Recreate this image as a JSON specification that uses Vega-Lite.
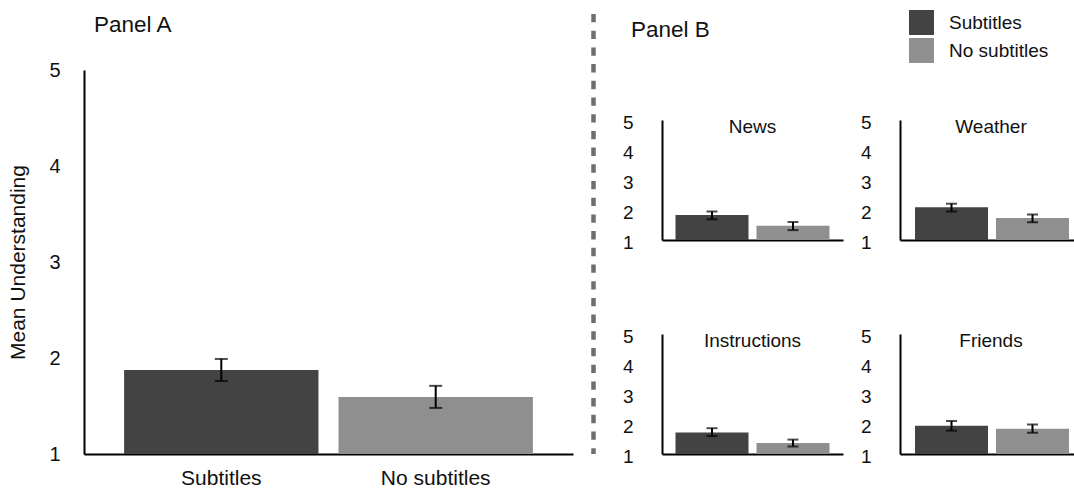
{
  "$schema": "https://vega.github.io/schema/vega-lite/v6.json",
  "background": "white",
  "padding": {"left": 7, "top": 10, "right": 0, "bottom": 0},
  "config": {
    "font": "Liberation Sans",
    "view": {"stroke": null},
    "axis": {"domainColor": "#000", "domainWidth": 2, "ticks": false, "grid": false, "labelColor": "#111", "titleColor": "#111", "titleFontWeight": "normal", "labelOverlap": false, "labelBound": false},
    "title": {"fontWeight": "normal", "color": "#111"}
  },
  "datasets": {
    "overall": [
      {"condition": "Subtitles", "mean": 1.875, "lo": 1.76, "hi": 1.99},
      {"condition": "No subtitles", "mean": 1.595, "lo": 1.48, "hi": 1.71}
    ],
    "byTopic": [
      {"topic": "News", "condition": "Subtitles", "mean": 1.83, "lo": 1.69, "hi": 1.95},
      {"topic": "News", "condition": "No subtitles", "mean": 1.475, "lo": 1.33, "hi": 1.6},
      {"topic": "Weather", "condition": "Subtitles", "mean": 2.09, "lo": 1.95, "hi": 2.21},
      {"topic": "Weather", "condition": "No subtitles", "mean": 1.73, "lo": 1.59, "hi": 1.85},
      {"topic": "Instructions", "condition": "Subtitles", "mean": 1.72, "lo": 1.6, "hi": 1.86},
      {"topic": "Instructions", "condition": "No subtitles", "mean": 1.37, "lo": 1.25, "hi": 1.48},
      {"topic": "Friends", "condition": "Subtitles", "mean": 1.94, "lo": 1.78, "hi": 2.1},
      {"topic": "Friends", "condition": "No subtitles", "mean": 1.84, "lo": 1.71, "hi": 1.98}
    ]
  },
  "bounds": "flush",
  "spacing": 20.5,
  "hconcat": [
    {
      "title": {"text": "Panel A", "anchor": "start", "frame": "group", "fontSize": 22.5, "dx": 10, "offset": 24},
      "data": {"name": "overall"},
      "width": 489,
      "height": 384,
      "encoding": {
        "x": {"field": "condition", "type": "nominal",
          "scale": {"domain": ["Subtitles", "No subtitles"], "paddingInner": 0.0935, "paddingOuter": 0.187},
          "axis": {"title": null, "labelAngle": 0, "labelFontSize": 21, "labelPadding": 13}}
      },
      "layer": [
        {
          "mark": {"type": "bar"},
          "encoding": {
            "y": {"field": "mean", "type": "quantitative",
              "scale": {"domain": [1, 5], "nice": false, "zero": false},
              "axis": {"title": "Mean Understanding", "values": [1, 2, 3, 4, 5], "tickCount": 5, "format": "d", "labelFontSize": 20, "labelPadding": 24, "titleFontSize": 21, "titlePadding": 20}},
            "y2": {"datum": 1},
            "color": {"field": "condition", "type": "nominal",
              "scale": {"domain": ["Subtitles", "No subtitles"], "range": ["#434343", "#8f8f8f"]},
              "legend": {"orient": "none", "legendX": 825, "legendY": -60, "title": null, "symbolType": "square", "symbolSize": 625, "symbolStrokeWidth": 0, "symbolOpacity": 1, "labelFontSize": 19, "labelOffset": 15, "rowPadding": 3, "padding": 0, "labelColor": "#111"}}
          }
        },
        {
          "mark": {"type": "errorbar", "ticks": true, "size": 13, "thickness": 2, "color": "black"},
          "encoding": {
            "y": {"field": "lo", "type": "quantitative",
              "axis": {"title": "Mean Understanding", "values": [1, 2, 3, 4, 5], "tickCount": 5, "format": "d", "labelFontSize": 20, "labelPadding": 24, "titleFontSize": 21, "titlePadding": 20}},
            "y2": {"field": "hi"}
          }
        }
      ]
    },
    {
      "width": 48,
      "height": 384,
      "data": {"values": [{}]},
      "mark": {"type": "rule", "color": "#6e6e6e", "strokeWidth": 4.5, "strokeDash": [8.35, 8.35]},
      "encoding": {
        "x": {"datum": 0, "type": "quantitative", "scale": {"domain": [0, 1]}, "axis": null},
        "y": {"datum": 1.1458, "type": "quantitative", "scale": {"domain": [0, 1]}, "axis": null},
        "y2": {"datum": 0}
      }
    },
    {
      "bounds": "flush",
      "spacing": 49,
      "vconcat": [
        {
          "title": {"text": "Panel B", "anchor": "start", "frame": "group", "fontSize": 22.5, "dx": -31, "offset": 23},
          "width": 181,
          "height": 1,
          "data": {"values": [{}]},
          "mark": {"type": "text", "text": ""},
          "encoding": {}
        },
        {
          "bounds": "flush",
          "columns": 2,
          "spacing": {"row": 94, "column": 57},
          "concat": [
            {
              "title": {"text": "News", "fontSize": 19, "offset": -24},
              "width": 181, "height": 120,
              "data": {"name": "byTopic"},
              "transform": [{"filter": {"field": "topic", "equal": "News"}}],
              "encoding": {
                "x": {"field": "condition", "type": "nominal",
                  "scale": {"domain": ["Subtitles", "No subtitles"], "paddingInner": 0.0988, "paddingOuter": 0.1667, "align": 0.5},
                  "axis": {"title": null, "labels": false}}
              },
              "layer": [
                {"mark": {"type": "bar"},
                 "encoding": {
                   "y": {"field": "mean", "type": "quantitative", "scale": {"domain": [1, 5], "nice": false, "zero": false},
                     "axis": {"title": null, "values": [1, 2, 3, 4, 5], "tickCount": 5, "format": "d", "labelFontSize": 19, "labelPadding": 29, "labelOffset": 2}},
                   "y2": {"datum": 1},
                   "color": {"field": "condition", "type": "nominal",
                     "scale": {"domain": ["Subtitles", "No subtitles"], "range": ["#434343", "#8f8f8f"]},
                     "legend": {"orient": "none", "legendX": 825, "legendY": -60, "title": null, "symbolType": "square", "symbolSize": 625, "symbolStrokeWidth": 0, "symbolOpacity": 1, "labelFontSize": 19, "labelOffset": 15, "rowPadding": 3, "padding": 0, "labelColor": "#111"}}
                 }},
                {"mark": {"type": "errorbar", "ticks": true, "size": 11, "thickness": 2, "color": "black"},
                 "encoding": {
                   "y": {"field": "lo", "type": "quantitative",
                     "axis": {"title": null, "values": [1, 2, 3, 4, 5], "tickCount": 5, "format": "d", "labelFontSize": 19, "labelPadding": 29, "labelOffset": 2}},
                   "y2": {"field": "hi"}}}
              ]
            },
            {
              "title": {"text": "Weather", "fontSize": 19, "offset": -24, "dx": 4},
              "width": 174, "height": 120,
              "data": {"name": "byTopic"},
              "transform": [{"filter": {"field": "topic", "equal": "Weather"}}],
              "encoding": {
                "x": {"field": "condition", "type": "nominal",
                  "scale": {"domain": ["Subtitles", "No subtitles"], "paddingInner": 0.0988, "paddingOuter": 0.1235, "align": 0.75},
                  "axis": {"title": null, "labels": false}}
              },
              "layer": [
                {"mark": {"type": "bar"},
                 "encoding": {
                   "y": {"field": "mean", "type": "quantitative", "scale": {"domain": [1, 5], "nice": false, "zero": false},
                     "axis": {"title": null, "values": [1, 2, 3, 4, 5], "tickCount": 5, "format": "d", "labelFontSize": 19, "labelPadding": 29, "labelOffset": 2}},
                   "y2": {"datum": 1},
                   "color": {"field": "condition", "type": "nominal",
                     "scale": {"domain": ["Subtitles", "No subtitles"], "range": ["#434343", "#8f8f8f"]},
                     "legend": {"orient": "none", "legendX": 825, "legendY": -60, "title": null, "symbolType": "square", "symbolSize": 625, "symbolStrokeWidth": 0, "symbolOpacity": 1, "labelFontSize": 19, "labelOffset": 15, "rowPadding": 3, "padding": 0, "labelColor": "#111"}}
                 }},
                {"mark": {"type": "errorbar", "ticks": true, "size": 11, "thickness": 2, "color": "black"},
                 "encoding": {
                   "y": {"field": "lo", "type": "quantitative",
                     "axis": {"title": null, "values": [1, 2, 3, 4, 5], "tickCount": 5, "format": "d", "labelFontSize": 19, "labelPadding": 29, "labelOffset": 2}},
                   "y2": {"field": "hi"}}}
              ]
            },
            {
              "title": {"text": "Instructions", "fontSize": 19, "offset": -24},
              "width": 181, "height": 120,
              "data": {"name": "byTopic"},
              "transform": [{"filter": {"field": "topic", "equal": "Instructions"}}],
              "encoding": {
                "x": {"field": "condition", "type": "nominal",
                  "scale": {"domain": ["Subtitles", "No subtitles"], "paddingInner": 0.0988, "paddingOuter": 0.1667, "align": 0.5},
                  "axis": {"title": null, "labels": false}}
              },
              "layer": [
                {"mark": {"type": "bar"},
                 "encoding": {
                   "y": {"field": "mean", "type": "quantitative", "scale": {"domain": [1, 5], "nice": false, "zero": false},
                     "axis": {"title": null, "values": [1, 2, 3, 4, 5], "tickCount": 5, "format": "d", "labelFontSize": 19, "labelPadding": 29, "labelOffset": 2}},
                   "y2": {"datum": 1},
                   "color": {"field": "condition", "type": "nominal",
                     "scale": {"domain": ["Subtitles", "No subtitles"], "range": ["#434343", "#8f8f8f"]},
                     "legend": {"orient": "none", "legendX": 825, "legendY": -60, "title": null, "symbolType": "square", "symbolSize": 625, "symbolStrokeWidth": 0, "symbolOpacity": 1, "labelFontSize": 19, "labelOffset": 15, "rowPadding": 3, "padding": 0, "labelColor": "#111"}}
                 }},
                {"mark": {"type": "errorbar", "ticks": true, "size": 11, "thickness": 2, "color": "black"},
                 "encoding": {
                   "y": {"field": "lo", "type": "quantitative",
                     "axis": {"title": null, "values": [1, 2, 3, 4, 5], "tickCount": 5, "format": "d", "labelFontSize": 19, "labelPadding": 29, "labelOffset": 2}},
                   "y2": {"field": "hi"}}}
              ]
            },
            {
              "title": {"text": "Friends", "fontSize": 19, "offset": -24, "dx": 4},
              "width": 174, "height": 120,
              "data": {"name": "byTopic"},
              "transform": [{"filter": {"field": "topic", "equal": "Friends"}}],
              "encoding": {
                "x": {"field": "condition", "type": "nominal",
                  "scale": {"domain": ["Subtitles", "No subtitles"], "paddingInner": 0.0988, "paddingOuter": 0.1235, "align": 0.75},
                  "axis": {"title": null, "labels": false}}
              },
              "layer": [
                {"mark": {"type": "bar"},
                 "encoding": {
                   "y": {"field": "mean", "type": "quantitative", "scale": {"domain": [1, 5], "nice": false, "zero": false},
                     "axis": {"title": null, "values": [1, 2, 3, 4, 5], "tickCount": 5, "format": "d", "labelFontSize": 19, "labelPadding": 29, "labelOffset": 2}},
                   "y2": {"datum": 1},
                   "color": {"field": "condition", "type": "nominal",
                     "scale": {"domain": ["Subtitles", "No subtitles"], "range": ["#434343", "#8f8f8f"]},
                     "legend": {"orient": "none", "legendX": 825, "legendY": -60, "title": null, "symbolType": "square", "symbolSize": 625, "symbolStrokeWidth": 0, "symbolOpacity": 1, "labelFontSize": 19, "labelOffset": 15, "rowPadding": 3, "padding": 0, "labelColor": "#111"}}
                 }},
                {"mark": {"type": "errorbar", "ticks": true, "size": 11, "thickness": 2, "color": "black"},
                 "encoding": {
                   "y": {"field": "lo", "type": "quantitative",
                     "axis": {"title": null, "values": [1, 2, 3, 4, 5], "tickCount": 5, "format": "d", "labelFontSize": 19, "labelPadding": 29, "labelOffset": 2}},
                   "y2": {"field": "hi"}}}
              ]
            }
          ]
        }
      ]
    }
  ]
}
